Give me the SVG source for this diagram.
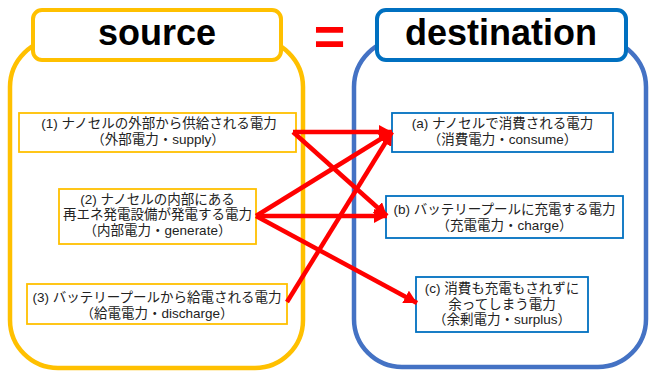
<svg xmlns="http://www.w3.org/2000/svg" width="649" height="373" viewBox="0 0 649 373">
<defs>
<style>
.cont{fill:#fff;stroke-width:4.5}
.title{fill:#fff;stroke-width:4}
.ttl{font-family:"Liberation Sans",Arial,sans-serif;font-weight:bold;font-size:36px;fill:#000;text-anchor:middle}
.nb{fill:#fff;stroke-width:1.8}
.y{stroke:#FFC000}
.b{stroke:#0070C0}
.bc{stroke:#4472C4}
.t{font-family:"Liberation Sans","Noto Sans CJK JP",sans-serif;font-size:13.5px;fill:#222;text-anchor:middle}
.arr{stroke:#FF0000;stroke-width:4.5;fill:none;marker-end:url(#ah)}
</style>
<marker id="ah" markerUnits="userSpaceOnUse" markerWidth="14" markerHeight="14" refX="13" refY="7" orient="auto">
<path d="M0,0 L13,7 L0,14 Z" fill="#FF0000"/>
</marker>
</defs>
<rect x="0" y="0" width="649" height="373" fill="#fff"/>
<g id="source">
<rect class="cont y" x="10" y="39" width="293" height="329" rx="48"/>
<rect class="title y" x="33" y="10" width="248" height="50" rx="9"/>
<text class="ttl" x="157" y="45">source</text>
</g>
<g id="destination">
<rect class="cont bc" x="354" y="39" width="292" height="328" rx="48"/>
<rect class="title b" x="377" y="10" width="249" height="50" rx="9"/>
<text class="ttl" x="501" y="45">destination</text>
</g>
<g id="equals">
<text x="329.5" y="55" font-family="Liberation Sans,Arial,sans-serif" font-weight="bold" font-size="54" fill="#FF0000" text-anchor="middle">=</text>
</g>
<g id="n1">
<rect class="nb y" x="19" y="113" width="277" height="39"/>
<text class="t" x="159" y="128">(1) ナノセルの外部から供給される電力<tspan x="158" dy="15.5">（外部電力・supply）</tspan></text>
</g>
<g id="n2">
<rect class="nb y" x="59" y="189" width="197" height="55"/>
<text class="t" x="157.5" y="203.5">(2) ナノセルの内部にある<tspan x="157.5" dy="15.5">再エネ発電設備が発電する電力</tspan><tspan x="157.5" dy="15.5">（内部電力・generate）</tspan></text>
</g>
<g id="n3">
<rect class="nb y" x="27" y="284" width="260" height="40"/>
<text class="t" x="157" y="302">(3) バッテリープールから給電される電力<tspan x="157" dy="15.5">（給電電力・discharge）</tspan></text>
</g>
<g id="na">
<rect class="nb b" x="392" y="113" width="221" height="39"/>
<text class="t" x="502.5" y="128">(a) ナノセルで消費される電力<tspan x="502.5" dy="15.5">（消費電力・consume）</tspan></text>
</g>
<g id="nb">
<rect class="nb b" x="386" y="196" width="237" height="42"/>
<text class="t" x="504.5" y="214">(b) バッテリープールに充電する電力<tspan x="504.5" dy="15.5">（充電電力・charge）</tspan></text>
</g>
<g id="nc">
<rect class="nb b" x="416" y="277" width="172" height="55"/>
<text class="t" x="502" y="293">(c) 消費も充電もされずに<tspan x="502" dy="15.5">余ってしまう電力</tspan><tspan x="502" dy="15.5">（余剰電力・surplus）</tspan></text>
</g>
<g id="connectors">
<line class="arr" x1="293" y1="132" x2="392" y2="132"/>
<line class="arr" x1="293" y1="132" x2="387" y2="216"/>
<line class="arr" x1="256" y1="216" x2="392" y2="132"/>
<line class="arr" x1="256" y1="216" x2="387" y2="216"/>
<line class="arr" x1="256" y1="216" x2="417" y2="303"/>
<line class="arr" x1="287" y1="302" x2="392" y2="132"/>
</g>
</svg>
